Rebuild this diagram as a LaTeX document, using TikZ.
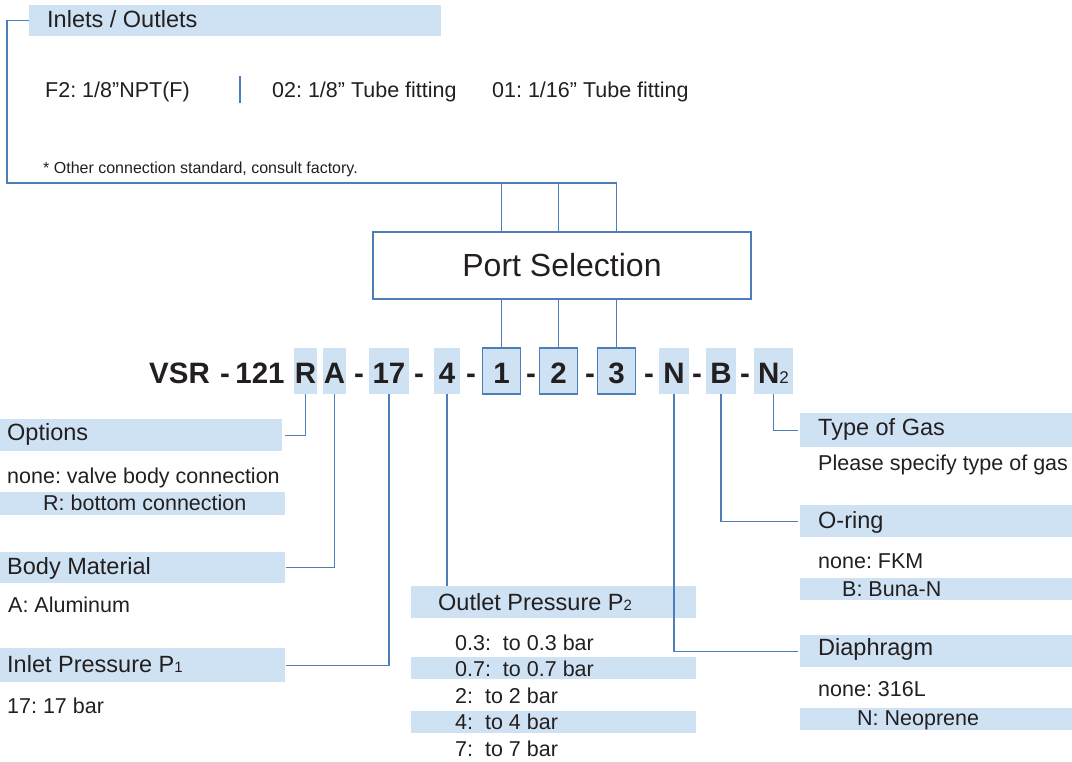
\documentclass[tikz,border=0pt]{standalone}
\usepackage{fontspec}
\setmainfont{Liberation Sans}
\frenchspacing
\newcommand\psub[1]{{\fontsize{15}{15}\selectfont\mdseries #1}}
\begin{document}
\begin{tikzpicture}[x=1pt,y=-1pt]
\definecolor{band}{RGB}{207,226,243}
\definecolor{linkc}{RGB}{76,126,185}
\definecolor{ink}{RGB}{35,31,32}
\tikzset{code/.style={inner sep=0pt,minimum height=46pt,text height=26pt,text depth=0pt,
                      font=\fontsize{29.5}{30}\selectfont\bfseries,text=ink},
         bandbox/.style={fill=band,inner sep=0pt,anchor=north west},
         lab/.style={anchor=base west,inner sep=0pt,text=ink,font=\fontsize{23.5}{26}\selectfont},
         txt/.style={lab,font=\fontsize{21.5}{24}\selectfont},
         link/.style={draw=linkc,line width=1.3pt}}
\useasboundingbox (0,0) rectangle (1072,762);

% shaded bands: name / left / top / width / height
\foreach \n/\x/\y/\w/\h in {io/29/5/412/31, opt/0/419/282/32, optR/0/492/285/23, mat/0/552/285/31,
    inl/0/648/285/34, outl/411/586/285/32, o07/411/657/285/22, o4/411/711/285/22,
    gas/800/413/272/34, ring/800/505/272/32, ringB/800/578/272/22, dia/800/635/272/32, diaN/800/708/272/22}
    \node[bandbox,minimum width=\w,minimum height=\h] (\n) at (\x,\y) {};

% band titles
\foreach \n/\x/\y/\t in {tio/47/27.3/{Inlets / Outlets}, topt/7/440.7/Options, tmat/7/574/Body Material,
    tinl/7/672.7/{Inlet Pressure P\psub{1}}, toutl/438/610/{Outlet Pressure P\psub{2}},
    tgas/818/435/Type of Gas, tring/818/528/O-ring, tdia/818/655/Diaphragm}
    \node[lab] (\n) at (\x,\y) {\t};

% entries
\foreach \n/\x/\y/\t in {f2/45/97.3/{F2: 1/8”NPT(F)}, t02/272/97.3/{02: 1/8” Tube fitting},
    t01/492/97.3/{01: 1/16” Tube fitting},
    optN/7/483/{none: valve body connection}, optRt/43/510/{R: bottom connection},
    matA/8/612/{A: Aluminum}, inl17/7/713/{17: 17 bar},
    p03/455/650/{0.3:\ \ to 0.3 bar}, p07/455/676/{0.7:\ \ to 0.7 bar}, p2/455/703/{2:\ \ to 2 bar},
    p4/455/729/{4:\ \ to 4 bar}, p7/455/756/{7:\ \ to 7 bar},
    gasT/818/470/{Please specify type of gas}, ringN/818/568/{none: FKM}, ringBt/842/596.7/{B: Buna-N},
    diaL/818/696.7/{none: 316L}, diaNt/857/725.7/{N: Neoprene}}
    \node[txt] (\n) at (\x,\y) {\t};
\node[txt,font=\fontsize{16}{18}\selectfont] (note) at (43,174) {* Other connection standard, consult factory.};
\draw[link] (240,76) -- (240,103);

% the model code
\foreach \n/\t/\x in {vsr/VSR/179.5, d0/-/225, n121/121/260, d1/-/359, d2/-/419, d3/-/471,
    d4/-/531, d5/-/590, d6/-/649, d7/-/697, d8/-/745}
    \node[code] (\n) at (\x,371) {\t};
\foreach \n/\t/\x/\w in {cR/R/305.5/23, cA/A/334.5/23, c17/17/389/40, c4/4/447/26, cN/N/674/30, cB/B/721/30}
    \node[code,fill=band,minimum width=\w] (\n) at (\x,371) {\t};
\foreach \n/\t/\x in {c1/1/501.5, c2/2/558.5, c3/3/616.5}
    \node[code,fill=band,draw=linkc,line width=1.3pt,minimum width=38] (\n) at (\x,371) {\t};
\node[code,fill=band,minimum width=39] (cN2) at (773.5,371) {N{\fontsize{17}{17}\selectfont\mdseries 2}};

% port selection
\node[draw=linkc,line width=1.4pt,minimum width=378,minimum height=67,inner sep=0pt,
      font=\fontsize{32}{34}\selectfont,text=ink] (port) at (562,265.5) {Port Selection};
\coordinate (bus) at (0,183);
\draw[link] (io.west) -- ++(-22,0) |- (c3 |- bus) -- (port.north -| c3);
\foreach \n in {c1,c2}
    \draw[link] (\n |- bus) -- (port.north -| \n);
\foreach \n in {c1,c2,c3}
    \draw[link] (\n.north) -- (port.south -| \n);

% leaders down to the bands
\draw[link,shorten >=3pt] (cR.south) |- (opt.east);
\draw[link,shorten >=1pt] (cA.south) |- (mat.east);
\draw[link,shorten >=1pt] (c17.south) |- (inl.east);
\draw[link] (c4.south) -- (outl.north -| c4);
\draw[link,shorten >=2pt] (cN2.south) |- (gas.west);
\draw[link,shorten >=2pt] (cB.south) |- (ring.west);
\draw[link,shorten >=2pt] (cN.south) |- (dia.west);
\end{tikzpicture}
\end{document}
